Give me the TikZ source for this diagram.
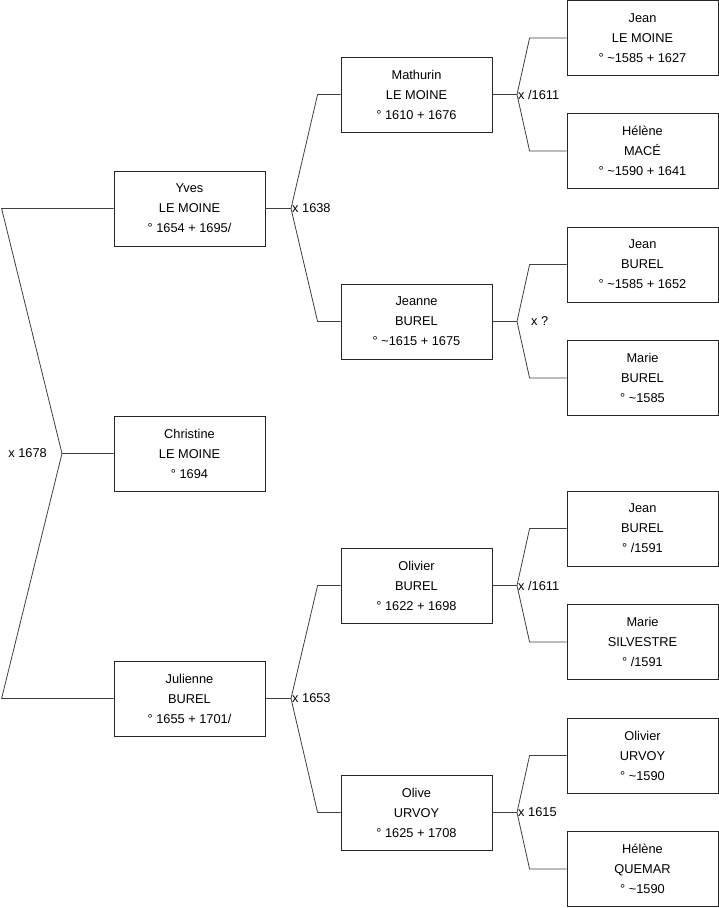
\documentclass[tikz,border=0pt]{standalone}
\usepackage{fontspec}
\setmainfont{Liberation Sans}
\begin{document}
\begin{tikzpicture}[x=1pt,y=-1pt,
  person/.style={draw=black!85, line width=0.8pt, minimum width=151pt, minimum height=75pt,
    inner sep=0pt, align=center, font=\fontsize{12.8}{20}\selectfont},
  link/.style={draw=black!75, line width=0.8pt},
  lab/.style={font=\fontsize{12.8}{14}\selectfont, inner sep=1pt}]
\useasboundingbox (0,0) rectangle (719,908);
% level 1
\node[person] (yves) at (189.5,208.5) {Yves\\LE MOINE\\° 1654 + 1695/};
\node[person] (christine) at (189.5,453.5) {Christine\\LE MOINE\\° 1694};
\node[person] (julienne) at (189.5,698.5) {Julienne\\BUREL\\° 1655 + 1701/};
% level 2
\node[person] (mathurin) at (416.5,94.5) {Mathurin\\LE MOINE\\° 1610 + 1676};
\node[person] (jeanne) at (416.5,321.5) {Jeanne\\BUREL\\° \textasciitilde 1615 + 1675};
\node[person] (olivier) at (416.5,585.5) {Olivier\\BUREL\\° 1622 + 1698};
\node[person] (olive) at (416.5,812.5) {Olive\\URVOY\\° 1625 + 1708};
% level 3
\node[person] (jean1) at (642.5,38) {Jean\\LE MOINE\\° \textasciitilde 1585 + 1627};
\node[person] (helene1) at (642.5,151) {Hélène\\MACÉ\\° \textasciitilde 1590 + 1641};
\node[person] (jean2) at (642.5,264.5) {Jean\\BUREL\\° \textasciitilde 1585 + 1652};
\node[person] (marie1) at (642.5,378) {Marie\\BUREL\\° \textasciitilde 1585};
\node[person] (jean3) at (642.5,528.5) {Jean\\BUREL\\° /1591};
\node[person] (marie2) at (642.5,642) {Marie\\SILVESTRE\\° /1591};
\node[person] (olivier2) at (642.5,755.5) {Olivier\\URVOY\\° \textasciitilde 1590};
\node[person] (helene2) at (642.5,869) {Hélène\\QUEMAR\\° \textasciitilde 1590};
% vertices
\coordinate (v0) at (62,453.5);
\coordinate (v1) at (291,208.5);
\coordinate (v2) at (291,698.5);
\coordinate (v3) at (517,94.5);
\coordinate (v4) at (517,321.5);
\coordinate (v5) at (517,585.5);
\coordinate (v6) at (517,812.5);
% left connector
\draw[link] (christine.west) -- (v0) -- ([xshift=-112pt]yves.west) -- (yves.west);
\draw[link] (v0) -- ([xshift=-112pt]julienne.west) -- (julienne.west);
% level 1 -> 2
\draw[link] (yves.east) -- (v1) -- ([xshift=-23pt]mathurin.west) -- (mathurin.west);
\draw[link] (v1) -- ([xshift=-23pt]jeanne.west) -- (jeanne.west);
\draw[link] (julienne.east) -- (v2) -- ([xshift=-23pt]olivier.west) -- (olivier.west);
\draw[link] (v2) -- ([xshift=-23pt]olive.west) -- (olive.west);
% level 2 -> 3
\draw[link] (mathurin.east) -- (v3) -- ([xshift=-37pt]jean1.west) -- (jean1.west);
\draw[link] (v3) -- ([xshift=-37pt]helene1.west) -- (helene1.west);
\draw[link] (jeanne.east) -- (v4) -- ([xshift=-37pt]jean2.west) -- (jean2.west);
\draw[link] (v4) -- ([xshift=-37pt]marie1.west) -- (marie1.west);
\draw[link] (olivier.east) -- (v5) -- ([xshift=-37pt]jean3.west) -- (jean3.west);
\draw[link] (v5) -- ([xshift=-37pt]marie2.west) -- (marie2.west);
\draw[link] (olive.east) -- (v6) -- ([xshift=-37pt]olivier2.west) -- (olivier2.west);
\draw[link] (v6) -- ([xshift=-37pt]helene2.west) -- (helene2.west);
% labels
\node[lab, anchor=east] (l0) at ([xshift=-14pt]v0) {x 1678};
\node[lab, anchor=west] (l1) at (v1) {x 1638};
\node[lab, anchor=west] (l2) at (v2) {x 1653};
\node[lab, anchor=west] (l3) at (v3) {x /1611};
\node[lab, anchor=west] (l4) at ([xshift=13pt]v4) {x ?};
\node[lab, anchor=west] (l5) at (v5) {x /1611};
\node[lab, anchor=west] (l6) at (v6) {x 1615};
\end{tikzpicture}
\end{document}
